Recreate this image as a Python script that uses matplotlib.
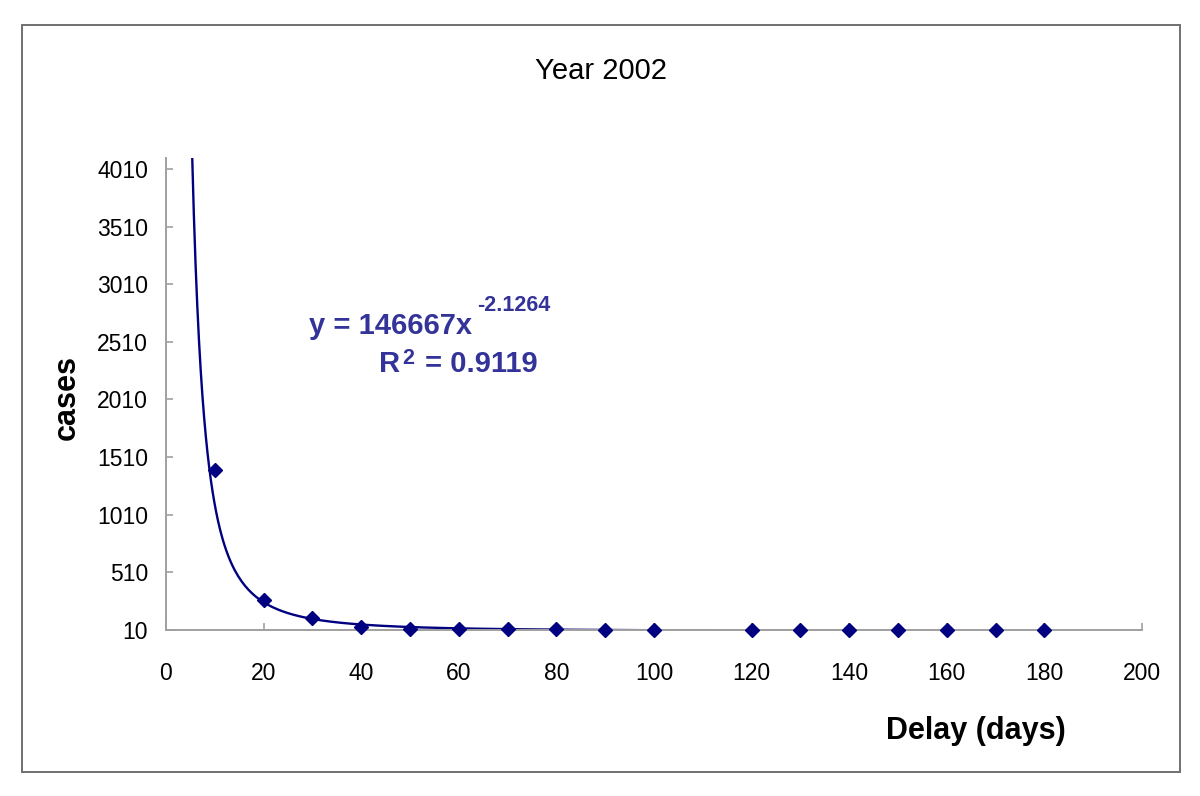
""" Delay vs cases, year 2002, with power trendline
"""
import numpy as np
import matplotlib as mpl
import matplotlib.pyplot as plt
import matplotlib.patches as pat

# data
delay = [10, 20, 30, 40, 50, 60, 70, 80, 90, 100, 120, 130, 140, 150, 160, 170, 180]
cases = [1398, 270, 112, 40, 22, 18, 16, 15, 11, 11, 11, 11, 11, 11, 11, 11, 11]
# power trendline shown on the chart: y = a * x^b
fit_a = 146667
fit_b = -2.1264
fit_r2 = 0.9119
fit_rng = [5, 180]
# axes config
x_ticks = np.arange(0, 201, 20)
y_ticks = np.arange(10, 4011, 500)
x_rng = [0, 200]
y_rng = [10, 4105]
title = 'Year 2002'
xlabel = 'Delay (days)'
ylabel = 'cases'
fout = 'out.png'
# fig config
W, H = 1200, 796
dpi = 100
line_color = '#000080'
text_color = '#333399'
axis_color = '#a0a0a0'
frame_color = '#707070'
fsize_tick = 16.5
fsize_title = 21
fsize_label = 22
fsize_eq = 21
fsize_sup = 15.5

def px(x, y):
    # pixel position (from top-left) -> figure fraction
    return x / W, 1 - y / H

plt.rcParams['font.family'] = ['Liberation Sans', 'DejaVu Sans']
fig = plt.figure(figsize=(W / dpi, H / dpi), dpi=dpi)
ax = fig.add_axes([166 / W, 1 - 630 / H, (1142 - 166) / W, (630 - 158) / H])

# outer chart frame
frame = pat.Rectangle(px(22, 772), (1180 - 22) / W, (772 - 25) / H, transform=fig.transFigure,
                      fill=False, edgecolor=frame_color, linewidth=1.4)
fig.patches.append(frame)

# trendline
x_fit = np.linspace(fit_rng[0], fit_rng[1], 500)
y_fit = fit_a * x_fit ** fit_b
ax.plot(x_fit, y_fit, color=line_color, linewidth=1.7, zorder=2)
# data points
ax.plot(delay, cases, linestyle='none', marker='D', markersize=7.5, color=line_color,
        clip_on=False, zorder=3)

ax.set_xlim(x_rng)
ax.set_ylim(y_rng)
ax.set_xticks(x_ticks)
ax.set_yticks(y_ticks)
for s in ['top', 'right']:
    ax.spines[s].set_visible(False)
for s in ['left', 'bottom']:
    ax.spines[s].set_color(axis_color)
    ax.spines[s].set_linewidth(1.4)
ax.tick_params(axis='both', direction='in', length=5, width=1.2, color=axis_color,
               labelsize=fsize_tick)
ax.tick_params(axis='x', pad=23)
ax.tick_params(axis='y', pad=13)

# titles & labels
fig.text(*px(601, 79), title, fontsize=fsize_title, ha='center', va='baseline')
fig.text(*px(67, 397), ylabel, fontsize=fsize_label, fontweight='bold', rotation=90,
         ha='center', va='center')
fig.text(*px(976, 731), xlabel, fontsize=fsize_label, fontweight='bold',
         ha='center', va='center')

# trendline equation
eq_kw = dict(fontweight='bold', color=text_color, ha='left', va='baseline')
fig.text(*px(309, 334), 'y = 146667x', fontsize=fsize_eq, **eq_kw)
fig.text(*px(477, 311), '-%.4f' % abs(fit_b), fontsize=fsize_sup, **eq_kw)
fig.text(*px(379, 372), 'R', fontsize=fsize_eq, **eq_kw)
fig.text(*px(402, 364), '2', fontsize=fsize_sup, **eq_kw)
fig.text(*px(425, 372), '= %.4f' % fit_r2, fontsize=fsize_eq, **eq_kw)

plt.savefig(fout, dpi=dpi)
